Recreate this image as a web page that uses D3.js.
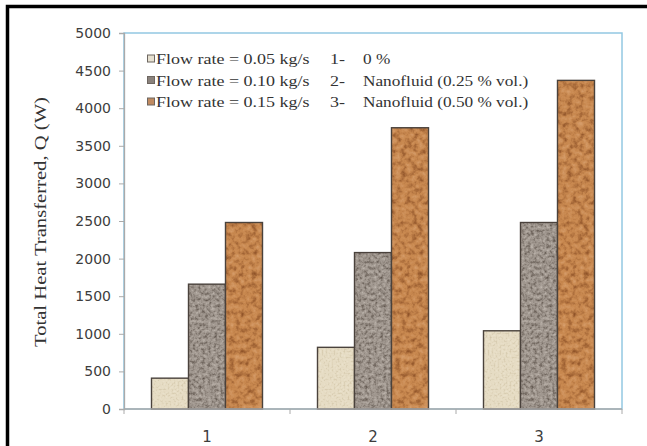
<!DOCTYPE html>
<html>
<head>
<meta charset="utf-8">
<script src="https://cdn.jsdelivr.net/npm/d3@7/dist/d3.min.js"></script>
<style>
  body { margin: 0; background: #fff; }
</style>
</head>
<body>
<div id="chart"></div>
<script>
// Data
const categories = ["1", "2", "3"];
const seriesNames = ["Flow rate = 0.05 kg/s", "Flow rate = 0.10 kg/s", "Flow rate = 0.15 kg/s"];
const flow005 = [410, 820, 1040];
const flow010 = [1660, 2080, 2480];
const flow015 = [2480, 3740, 4370];
const caseNumbers = ["1-", "2-", "3-"];
const caseNames = ["0 %", "Nanofluid (0.25 % vol.)", "Nanofluid (0.50 % vol.)"];
const yTicks = [0, 500, 1000, 1500, 2000, 2500, 3000, 3500, 4000, 4500, 5000];

const seriesValues = [flow005, flow010, flow015];

// Look of each series: base colour, dark speckle, light speckle, noise scale
const looks = [
    { base: "#e6dcc4", dark: "#c2b493", light: "#f2ecdc", key: "#e6e0d0", freq: 0.5, dk: [1.6, -0.8], lt: [-1.6, 0.7] },
    { base: "#a0978f", dark: "#5e544c", light: "#cbc3bb", key: "#8a827c", freq: 0.32, dk: [2.3, -1.1], lt: [-2.1, 0.95] },
    { base: "#c8884f", dark: "#8c5026", light: "#dca676", key: "#c08a60", freq: 0.18, dk: [2.3, -1.1], lt: [-2.1, 0.95] }
];

const W = 647, H = 446;
const margin = { top: 33, right: 25, bottom: 37, left: 124 };
const width = W - margin.left - margin.right;
const height = H - margin.top - margin.bottom;

const svg = d3.select("#chart")
    .append("svg")
    .attr("width", W)
    .attr("height", H);

// Noise textures for the bars
const defs = svg.append("defs");
looks.forEach((lk, i) => {
    const f = defs.append("filter")
        .attr("id", "tex" + i)
        .attr("color-interpolation-filters", "sRGB")
        .attr("x", 0).attr("y", 0).attr("width", 1).attr("height", 1);
    f.append("feTurbulence")
        .attr("type", "fractalNoise")
        .attr("baseFrequency", lk.freq)
        .attr("numOctaves", 3)
        .attr("seed", 4 + i * 7)
        .attr("result", "n");
    const d = d3.color(lk.dark), l = d3.color(lk.light);
    f.append("feColorMatrix").attr("in", "n").attr("type", "matrix")
        .attr("values", `0 0 0 0 ${d.r / 255} 0 0 0 0 ${d.g / 255} 0 0 0 0 ${d.b / 255} ${lk.dk[0]} 0 0 0 ${lk.dk[1]}`)
        .attr("result", "dk");
    f.append("feColorMatrix").attr("in", "n").attr("type", "matrix")
        .attr("values", `0 0 0 0 ${l.r / 255} 0 0 0 0 ${l.g / 255} 0 0 0 0 ${l.b / 255} ${lk.lt[0]} 0 0 0 ${lk.lt[1]}`)
        .attr("result", "lt");
    const m = f.append("feMerge").attr("result", "m");
    m.append("feMergeNode").attr("in", "SourceGraphic");
    m.append("feMergeNode").attr("in", "dk");
    m.append("feMergeNode").attr("in", "lt");
    f.append("feComposite").attr("in", "m").attr("in2", "SourceAlpha").attr("operator", "in");

    const p = defs.append("pattern")
        .attr("id", "pat" + i)
        .attr("patternUnits", "userSpaceOnUse")
        .attr("width", 200).attr("height", 446);
    p.append("rect")
        .attr("width", 200).attr("height", 446)
        .attr("fill", lk.base)
        .attr("filter", "url(#tex" + i + ")");
});

// Outer black frame (cut off on the right and bottom)
svg.append("rect")
    .attr("x", 7.5).attr("y", 6.5)
    .attr("width", 700).attr("height", 500)
    .attr("fill", "none")
    .attr("stroke", "#000")
    .attr("stroke-width", 3.5);

const g = svg.append("g")
    .attr("transform", "translate(" + margin.left + "," + margin.top + ")");

// Scales
const x0 = d3.scaleBand().domain(categories).range([0, width]).padding(0);
const groupGap = 27.5;
const x1 = d3.scaleBand().domain(d3.range(seriesNames.length))
    .range([groupGap, x0.bandwidth() - groupGap]).padding(0);
const y = d3.scaleLinear().domain([0, 5000]).range([height, 0]);

// Plot area frame (light blue)
g.append("rect")
    .attr("width", width).attr("height", height)
    .attr("fill", "none")
    .attr("stroke", "#93c8e2")
    .attr("stroke-width", 1.5);

// Bars
const groups = g.selectAll(".grp")
    .data(categories)
    .enter()
    .append("g")
    .attr("class", "grp")
    .attr("transform", (c) => "translate(" + x0(c) + ",0)");

groups.selectAll("rect")
    .data((c, ci) => seriesValues.map((vals, si) => ({ si: si, v: vals[ci] })))
    .enter()
    .append("rect")
    .attr("x", (d) => x1(d.si))
    .attr("y", (d) => y(d.v))
    .attr("width", x1.bandwidth())
    .attr("height", (d) => height - y(d.v))
    .attr("fill", (d) => "url(#pat" + d.si + ")")
    .attr("stroke", "#4a423c")
    .attr("stroke-width", 1.4);

// Y axis
const yAxis = g.append("g")
    .call(d3.axisLeft(y).tickValues(yTicks).tickSize(5).tickPadding(8).tickFormat(d3.format("d")));
yAxis.select(".domain").attr("stroke", "#aaaaaa").attr("stroke-width", 1.3);
yAxis.selectAll(".tick line").attr("stroke", "#aaaaaa");
yAxis.selectAll(".tick text")
    .attr("fill", "#3d3d3d")
    .attr("font-family", "DejaVu Sans")
    .attr("font-size", "14px");

// X axis, ticks at the category boundaries
const xAxisG = g.append("g").attr("transform", "translate(0," + height + ")");
xAxisG.append("line")
    .attr("x1", 0).attr("x2", width)
    .attr("stroke", "#aaaaaa").attr("stroke-width", 1.3);
xAxisG.selectAll(".bt")
    .data(categories.map((c) => x0(c) + x0.bandwidth()).concat([0]))
    .enter()
    .append("line")
    .attr("x1", (d) => d).attr("x2", (d) => d)
    .attr("y1", 0).attr("y2", 5)
    .attr("stroke", "#aaaaaa");
xAxisG.selectAll(".cl")
    .data(categories)
    .enter()
    .append("text")
    .attr("x", (c) => x0(c) + x0.bandwidth() / 2)
    .attr("y", 33)
    .attr("text-anchor", "middle")
    .attr("fill", "#3d3d3d")
    .attr("font-family", "DejaVu Sans")
    .attr("font-size", "15px")
    .text((c) => c);

// Y axis title
svg.append("text")
    .attr("transform", "translate(46,222) rotate(-90)")
    .attr("text-anchor", "middle")
    .attr("font-family", "Liberation Serif")
    .attr("font-size", "16px")
    .attr("fill", "#333")
    .attr("textLength", 250)
    .attr("lengthAdjust", "spacingAndGlyphs")
    .text("Total Heat Transferred, Q (W)");

// Legend
const legend = svg.append("g").attr("transform", "translate(147,0)");
const rowY = [59, 80.5, 102];
const rows = legend.selectAll(".row")
    .data(seriesNames)
    .enter()
    .append("g")
    .attr("transform", (d, i) => "translate(0," + rowY[i] + ")");
rows.append("rect")
    .attr("x", 0.5).attr("y", -4)
    .attr("width", 7).attr("height", 7)
    .attr("fill", (d, i) => looks[i].key)
    .attr("stroke", "#6d6660")
    .attr("stroke-width", 1);
rows.append("text")
    .attr("transform", "translate(9,5) scale(1.2,1)")
    .attr("font-family", "Liberation Serif")
    .attr("font-size", "15px")
    .attr("fill", "#333")
    .text((d) => d);
rows.append("text")
    .attr("transform", "translate(183,5) scale(1.2,1)")
    .attr("font-family", "Liberation Serif")
    .attr("font-size", "15px")
    .attr("fill", "#333")
    .text((d, i) => caseNumbers[i]);
rows.append("text")
    .attr("transform", "translate(216,5) scale(1.15,1)")
    .attr("font-family", "Liberation Serif")
    .attr("font-size", "15px")
    .attr("fill", "#333")
    .text((d, i) => caseNames[i]);
</script>
</body>
</html>
